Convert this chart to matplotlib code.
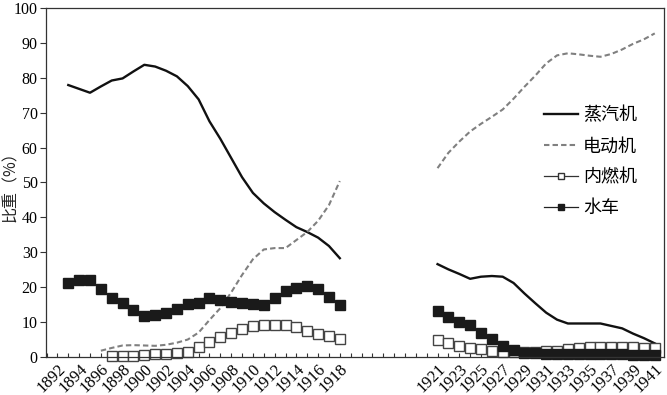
import matplotlib
matplotlib.use("Agg")
import matplotlib.pyplot as plt
from matplotlib.lines import Line2D
import numpy as np

plt.rcParams['font.family'] = ['Liberation Serif', 'Noto Sans CJK SC']
plt.rcParams['axes.unicode_minus'] = False

# years shown on the category axis (two blocks with a gap between)
years_left = list(range(1893, 1919))
years_right = list(range(1921, 1942))
label_years_left = list(range(1892, 1919, 2))
label_years_right = list(range(1921, 1942, 2))

# share (%) by power source
steam_left = [77.9, 76.8, 75.7, 77.5, 79.2, 79.8, 81.8, 83.7, 83.2, 82.0, 80.4, 77.6, 73.8,
              67.5, 62.5, 57.0, 51.5, 47.0, 44.0, 41.5, 39.3, 37.2, 35.8, 34.2, 31.8, 28.3]
steam_right = [26.6, 25.1, 23.8, 22.4, 23.0, 23.2, 23.0, 21.2, 18.2, 15.4, 12.7, 10.7, 9.6,
               9.6, 9.6, 9.6, 8.9, 8.2, 6.7, 5.4, 3.9]

# electric starts in 1896
electric_left = [1.8, 2.6, 3.3, 3.4, 3.3, 3.2, 3.5, 4.1, 5.0, 7.0, 10.6, 14.0, 18.5, 23.5,
                 28.0, 30.8, 31.2, 31.2, 33.5, 35.8, 39.0, 43.5, 50.4]
electric_right = [54.1, 58.5, 61.7, 64.6, 66.8, 68.8, 70.9, 74.0, 77.4, 80.6, 84.1, 86.4, 87.0,
                  86.7, 86.3, 86.0, 86.8, 88.1, 89.7, 91.0, 92.7]

# internal combustion starts in 1897
combustion_left = [0.3, 0.4, 0.4, 0.6, 0.8, 1.0, 1.2, 1.5, 3.0, 4.4, 5.6, 6.8, 7.9, 8.9,
                   9.2, 9.2, 9.2, 8.7, 7.4, 6.6, 6.0, 5.2]
combustion_right = [4.9, 3.9, 3.2, 2.6, 2.2, 1.8, 1.5, 1.3, 1.5, 1.5, 1.6, 1.8, 2.2, 2.5,
                    2.8, 3.0, 3.0, 3.0, 2.9, 2.7, 2.5]

water_left = [21.3, 22.1, 22.1, 19.4, 16.8, 15.6, 13.5, 11.8, 12.0, 12.7, 13.8, 15.2, 15.6,
              17.0, 16.3, 15.7, 15.6, 15.3, 14.8, 17.0, 18.9, 19.9, 20.2, 19.5, 17.1, 14.8]
water_right = [13.2, 11.5, 10.0, 9.2, 7.0, 5.1, 3.2, 2.0, 1.2, 1.1, 1.0, 1.0, 1.0, 1.0, 0.9,
               0.9, 0.8, 0.8, 0.7, 0.6, 0.5]

labels = ["蒸汽机", "电动机", "内燃机", "水车"]


def pos(year):
    # category slot of a year; 8 empty slots between 1918 and 1921
    if year <= 1918:
        return year - 1893
    return year - 1921 + 34


xl = np.array([pos(y) for y in years_left])
xr = np.array([pos(y) for y in years_right])

fig = plt.figure(figsize=(6.67, 3.95), dpi=100)
ax = fig.add_axes([0.069, 0.0962, 0.9265, 0.8838])

steam_kw = dict(color="#111111", lw=1.7, solid_joinstyle="round")
elec_kw = dict(color="#808080", lw=1.5, ls=(0, (2.6, 1.5)))
comb_kw = dict(color="#555555", lw=0.9, marker="s", ms=7.2, mfc="white",
               mec="#444444", mew=1.0, clip_on=False)
water_kw = dict(color="#222222", lw=0.9, marker="s", ms=7.2, mfc="#1a1a1a",
                mec="#1a1a1a", clip_on=False)

ax.plot(xl, steam_left, **steam_kw)
ax.plot(xr, steam_right, **steam_kw)
ax.plot(xl[3:], electric_left, **elec_kw)
ax.plot(xr, electric_right, **elec_kw)
ax.plot(xl[4:], combustion_left, **comb_kw)
ax.plot(xr, combustion_right, **comb_kw)
ax.plot(xl, water_left, **water_kw)
ax.plot(xr, water_right, **water_kw)

ax.set_xlim(-2.05, 54.85)
ax.set_ylim(0, 100)

tick_years = label_years_left + label_years_right
ax.set_xticks([pos(y) if y > 1892 else -1 for y in tick_years])
ax.set_xticklabels([str(y) for y in tick_years], rotation=45, ha="right",
                   va="top", rotation_mode="anchor", fontsize=12)
ax.set_xticks(np.arange(-2, 55), minor=True)
ax.tick_params(axis="x", which="both", direction="in", length=3, width=0.8,
               pad=3, color="#333333")

ax.set_yticks(np.arange(0, 101, 10))
ax.tick_params(axis="y", direction="out", length=4, width=0.8, labelsize=11.5,
               pad=2, color="#333333")
ax.set_ylabel("比重（%）", fontsize=11.5, family=["Noto Sans CJK SC"],
              color="#222222")
ax.yaxis.set_label_coords(-0.043, 0.5)

for s in ax.spines.values():
    s.set_linewidth(0.9)
    s.set_color("#333333")

handles = [
    Line2D([], [], **steam_kw),
    Line2D([], [], **elec_kw),
    Line2D([], [], color="#333333", lw=0.9, marker="s", ms=4, mfc="white", mec="#333333"),
    Line2D([], [], color="#222222", lw=0.9, marker="s", ms=4, mfc="#1a1a1a", mec="#1a1a1a"),
]
ax.legend(handles, labels, loc="center left", bbox_to_anchor=(544 / 667, 0.59),
          bbox_transform=fig.transFigure, frameon=False,
          handlelength=1.9, handletextpad=0.25, labelspacing=0.72,
          borderpad=0, borderaxespad=0, prop={"family": ["Noto Sans CJK SC"], "size": 13})

fig.savefig("out.png", dpi=100)
